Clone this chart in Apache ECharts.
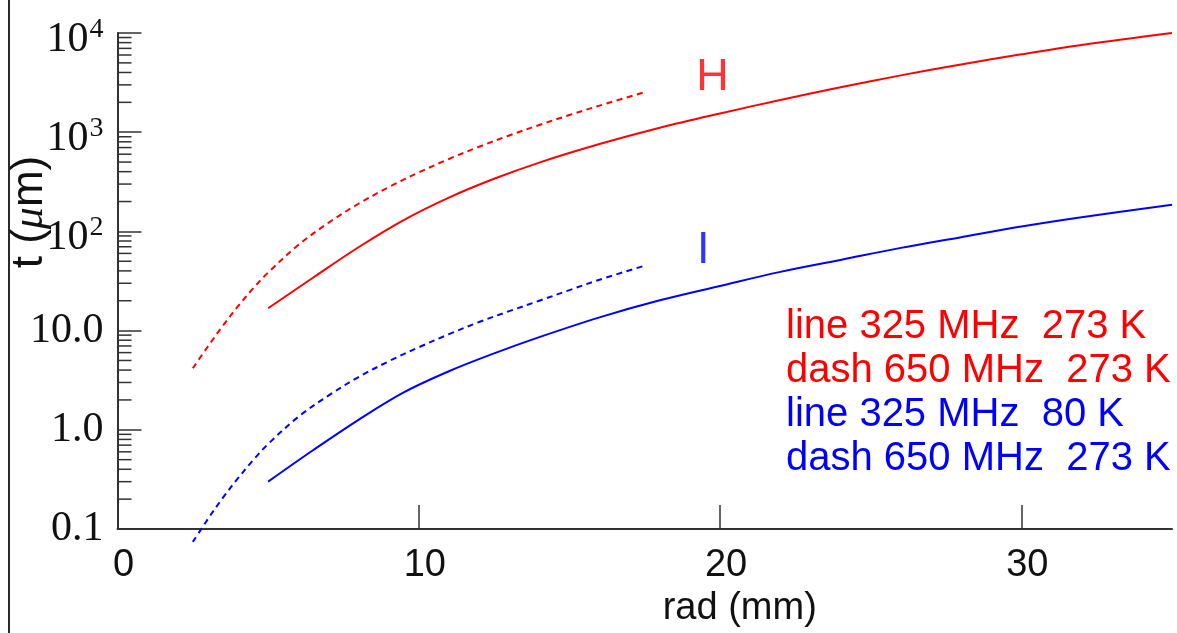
<!DOCTYPE html>
<html>
<head>
<meta charset="utf-8">
<script src="https://cdn.jsdelivr.net/npm/echarts@6/dist/echarts.min.js"></script>
<style>
  html, body { margin: 0; padding: 0; background: #fff; }
  #chart { width: 1177px; height: 633px; }
</style>
</head>
<body>
<div id="chart"></div>
<script>
// radius (mm) sample points for the two frequencies
const radH325 = [5, 6.5, 8, 9.5, 11, 12.5, 14, 16, 18, 20, 22, 24, 26, 28, 30, 32, 35];
const radH650 = [2.5, 3, 3.5, 4, 4.5, 5, 6, 7, 8, 9, 10, 11, 12, 13, 14, 15, 16, 17.5];

// thickness t (µm)
const line325K273 = [16.8, 34.3, 69.2, 130, 219, 339, 494, 759, 1109, 1545, 2113, 2838, 3741, 4819, 6095, 7568, 9980];
const dash650K273 = [4.17, 6.92, 11.2, 17.6, 26.6, 38.5, 72.8, 122, 190, 279, 393, 537, 713, 927, 1183, 1489, 1854, 2529];
const line325K80  = [0.30, 0.625, 1.26, 2.38, 3.89, 5.89, 8.59, 13.6, 20.2, 28.2, 39.1, 51.6, 68.2, 87.5, 112, 139, 186];
const dash650K273b = [0.0741, 0.126, 0.207, 0.325, 0.493, 0.719, 1.35, 2.21, 3.40, 4.90, 6.79, 9.20, 12.2, 15.7, 20.0, 25.6, 32.6, 45.2];

const seriesNames = ['line 325 MHz  273 K', 'dash 650 MHz  273 K', 'line 325 MHz  80 K', 'dash 650 MHz  273 K '];

// axis ticks
const xTicks = [0, 10, 20, 30];
const yTickValues = [0.1, 1, 10, 100, 1000, 10000];
const yTickLabels = ['0.1', '1.0', '10.0', '{b|10}{s|2}', '{b|10}{s|3}', '{b|10}{s|4}'];
const yMinorTicks = [
  0.2, 0.3, 0.4, 0.5, 0.6, 0.7, 0.8, 0.9,
  2, 3, 4, 5, 6, 7, 8, 9,
  20, 30, 40, 50, 60, 70, 80, 90,
  200, 300, 400, 500, 600, 700, 800, 900,
  2000, 3000, 4000, 5000, 6000, 7000, 8000, 9000
];

// curve tags
const tagH = [19.75, 3570];
const tagI = [19.44, 64];

const RED = '#ff0000';
const BLUE = '#0000ff';
const AXIS = '#333333';
const INK = '#111111';
const SANS = 'Liberation Sans';
const SERIF = 'Liberation Serif';

const zip = (xs, ys) => xs.map((x, i) => [x, ys[i]]);

const chart = echarts.init(document.getElementById('chart'), null, { renderer: 'canvas' });

function curve(name, xs, ys, color, dashed) {
  return {
    name: name,
    type: 'line',
    data: zip(xs, ys),
    showSymbol: false,
    symbol: 'none',
    smooth: 0.35,
    clip: false,
    silent: true,
    color: color,
    lineStyle: { color: color, width: 2, type: dashed ? [6, 4.5] : 'solid' },
    z: 3
  };
}

const option = {
  animation: false,
  backgroundColor: '#ffffff',
  grid: { left: 117.5, right: 5, top: 33, bottom: 104, containLabel: false, outerBoundsMode: 'none' },
  legend: {
    orient: 'vertical',
    left: 781,
    top: 305,
    padding: 0,
    itemWidth: 0,
    itemHeight: 0,
    itemGap: 0,
    icon: 'none',
    selectedMode: false,
    textStyle: { fontFamily: SANS, fontSize: 40, lineHeight: 44 },
    data: [
      { name: seriesNames[0], textStyle: { color: RED } },
      { name: seriesNames[1], textStyle: { color: RED } },
      { name: seriesNames[2], textStyle: { color: BLUE } },
      { name: seriesNames[3], textStyle: { color: BLUE } }
    ]
  },
  xAxis: {
    type: 'value',
    min: 0,
    max: 35,
    interval: 10,
    name: 'rad (mm)',
    nameLocation: 'middle',
    nameGap: 58,
    nameTextStyle: { fontFamily: SANS, fontSize: 38, color: INK, padding: [0, 0, 0, 190] },
    axisLine: { show: true, onZero: false, lineStyle: { color: AXIS, width: 2 } },
    axisTick: { show: true, inside: true, length: 24, customValues: xTicks, lineStyle: { color: AXIS, width: 1.5 } },
    axisLabel: {
      customValues: xTicks,
      fontFamily: SANS, fontSize: 38, color: INK, margin: 18,
      padding: [0, 0, 0, 12]
    },
    splitLine: { show: false }
  },
  yAxis: {
    type: 'log',
    logBase: 10,
    min: 0.1,
    max: 10000,
    interval: 1,
    axisLine: { show: true, onZero: false, lineStyle: { color: AXIS, width: 2 } },
    axisTick: { show: true, inside: true, length: 24, lineStyle: { color: AXIS, width: 1.5 } },
    axisLabel: {
      fontFamily: SERIF, fontSize: 42, color: INK, margin: 14,
      formatter: function (v) {
        let best = 0;
        for (let i = 0; i < yTickValues.length; i++) {
          if (Math.abs(Math.log10(v) - Math.log10(yTickValues[i])) < Math.abs(Math.log10(v) - Math.log10(yTickValues[best]))) best = i;
        }
        return yTickLabels[best];
      },
      rich: {
        b: { fontFamily: SERIF, fontSize: 42, color: INK, verticalAlign: 'bottom', lineHeight: 42 },
        s: { fontFamily: SERIF, fontSize: 28, color: INK, verticalAlign: 'bottom', lineHeight: 56, padding: [0, 0, 17.5, 1] }
      }
    },
    splitLine: { show: false },
    minorTick: { show: false }
  },
  graphic: [
    { type: 'rect', left: 8, top: 0, shape: { width: 2, height: 633 }, style: { fill: '#2a2a2a' }, silent: true },
    {
      type: 'text', x: 30, y: 212, rotation: Math.PI / 2, silent: true,
      style: {
        text: '{a|t (}{m|μ}{a|m)}',
        align: 'center', verticalAlign: 'middle',
        rich: {
          a: { fontFamily: SANS, fontSize: 44, fill: INK },
          m: { fontFamily: SERIF, fontStyle: 'italic', fontSize: 44, fill: INK }
        }
      }
    }
  ],
  series: [
    curve(seriesNames[0], radH325, line325K273, RED, false),
    curve(seriesNames[1], radH650, dash650K273, RED, true),
    curve(seriesNames[2], radH325, line325K80, BLUE, false),
    curve(seriesNames[3], radH650, dash650K273b, BLUE, true),
    {
      // inward minor ticks of the log axis, placed through the axis scale
      type: 'custom',
      silent: true,
      clip: false,
      data: yMinorTicks.map(v => [0, v]),
      renderItem: function (params, api) {
        const p = api.coord([0, api.value(1)]);
        return {
          type: 'line',
          shape: { x1: p[0], y1: p[1], x2: p[0] + 14, y2: p[1] },
          style: { stroke: AXIS, lineWidth: 1.5 }
        };
      },
      z: 4
    },
    {
      type: 'scatter',
      silent: true,
      symbolSize: 0,
      data: [
        { value: tagH, label: { formatter: 'H', color: RED } },
        { value: tagI, label: { formatter: 'I', color: BLUE } }
      ],
      label: { show: true, position: 'inside', fontFamily: SANS, fontSize: 45 }
    }
  ]
};

chart.setOption(option);
</script>
</body>
</html>
